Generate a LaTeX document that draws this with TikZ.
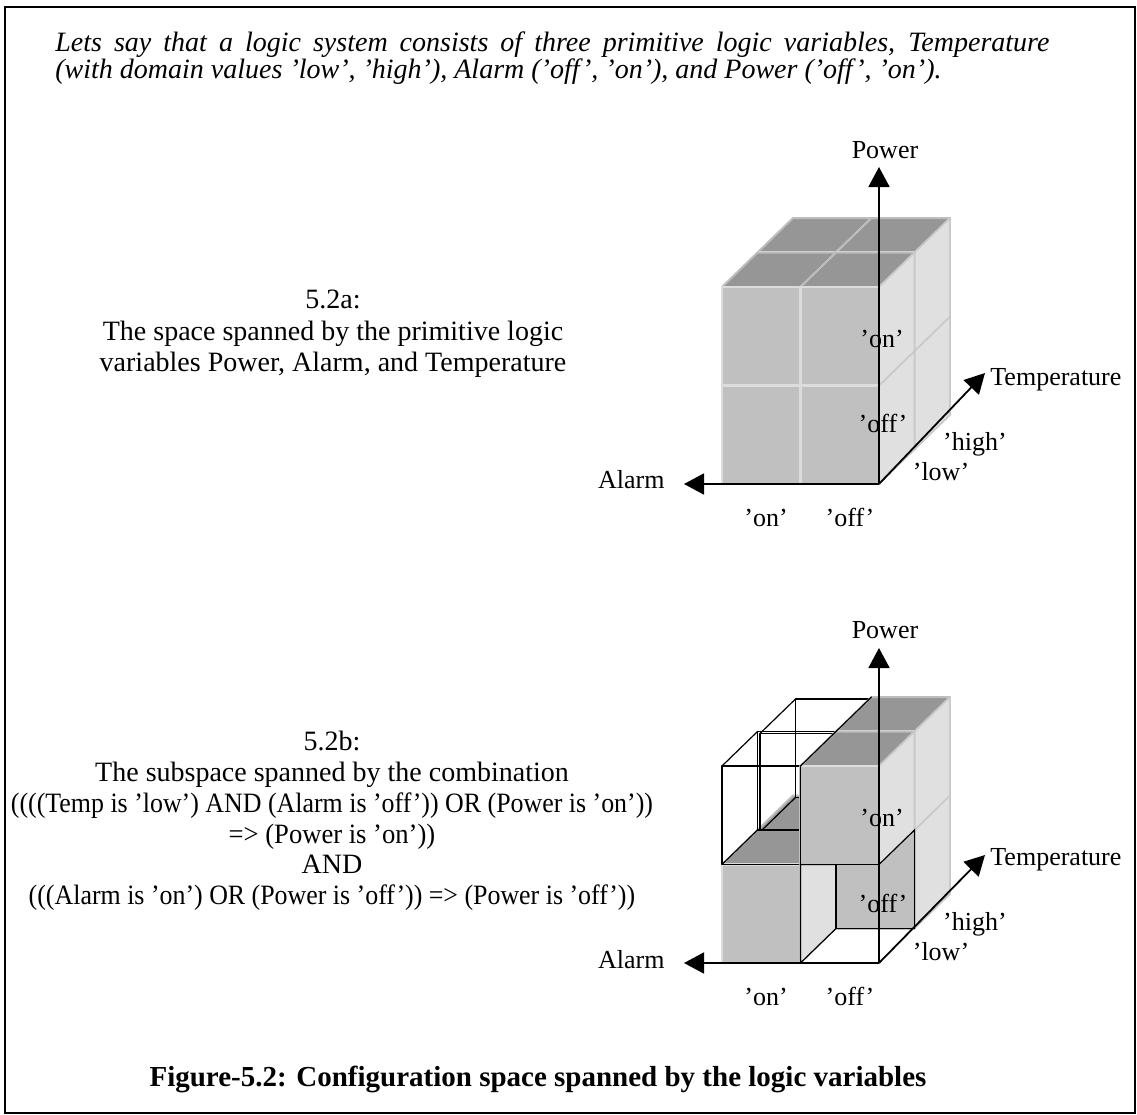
\documentclass[tikz,border=0pt]{standalone}
\usepackage{fontspec}
\setmainfont{Liberation Serif}
\usetikzlibrary{arrows.meta}
\definecolor{topc}{HTML}{969696}
\definecolor{frontc}{HTML}{C0C0C0}
\definecolor{rightc}{HTML}{E0E0E0}
\definecolor{topl}{HTML}{BDBDBD}
\definecolor{frontl}{HTML}{DCDCDC}
\definecolor{rightl}{HTML}{C9C9C9}
% #1 = alarm index, #2 = temperature index, #3 = power index ; coordinates (a,p,t)
\newcommand{\cubecell}[3]{%
  \path[topface] (#1,#3+1,#2) -- (#1+1,#3+1,#2) -- (#1+1,#3+1,#2+1) -- (#1,#3+1,#2+1) -- cycle;
  \path[frontface] (#1,#3,#2) -- (#1+1,#3,#2) -- (#1+1,#3+1,#2) -- (#1,#3+1,#2) -- cycle;
  \path[rightface] (#1,#3,#2) -- (#1,#3,#2+1) -- (#1,#3+1,#2+1) -- (#1,#3+1,#2) -- cycle;
}
\newcommand{\wirecell}[3]{%
  \draw[wire] (#1,#3,#2) -- (#1+1,#3,#2) -- (#1+1,#3+1,#2) -- (#1,#3+1,#2) -- cycle;
  \draw[wire] (#1,#3,#2+1) -- (#1+1,#3,#2+1) -- (#1+1,#3+1,#2+1) -- (#1,#3+1,#2+1) -- cycle;
  \draw[wire] (#1,#3,#2) -- (#1,#3,#2+1) (#1+1,#3,#2) -- (#1+1,#3,#2+1)
              (#1,#3+1,#2) -- (#1,#3+1,#2+1) (#1+1,#3+1,#2) -- (#1+1,#3+1,#2+1);
}
\begin{document}
\begin{tikzpicture}[x=0.5pt,y=-0.5pt,
  body/.style={font=\fontsize{14}{17}\selectfont, inner sep=0pt, anchor=base},
  itxt/.style={font=\fontsize{14}{17}\selectfont\itshape, inner sep=0pt, anchor=base west},
  capt/.style={font=\fontsize{14.5}{17}\selectfont\bfseries, inner sep=0pt, anchor=base},
  lbl/.style={font=\fontsize{13}{15}\selectfont, inner sep=0pt, anchor=base},
  axis/.style={line width=0.9pt, -{Triangle[length=10pt,width=10.5pt]}},
  topface/.style={fill=topc, draw=topl, line width=1pt, line join=round},
  frontface/.style={fill=frontc, draw=frontl, line width=1.1pt, line join=round},
  rightface/.style={fill=rightc, draw=rightl, line width=0.8pt, line join=round},
  wire/.style={line width=0.6pt, black, line join=round},
  edgeline/.style={line width=0.6pt, black, line cap=round},
  cube3d/.style={x={(-39.25pt,0pt)}, y={(0pt,49.25pt)}, z={(17.75pt,17.25pt)}},
]
\useasboundingbox (0,0) rectangle (1137,1115);
\draw[line width=1pt] (5,7) rectangle (1135,1112.5);

% ---------- texts ----------
\node[itxt] (intro1) at (55,51) {\makebox[497pt][s]{Lets say that a logic system consists of three primitive logic variables, Temperature}};
\node[itxt] (intro2) at (55,78) {(with domain values 'low', 'high'), Alarm ('off', 'on'), and Power ('off', 'on').};

\node[body] (a1) at (333,308) {5.2a:};
\node[body] (a2) at (333,340) {The space spanned by the primitive logic};
\node[body] (a3) at (333,371) {variables Power, Alarm, and Temperature};

\node[body] (b1) at (332,750) {5.2b:};
\node[body] (b2) at (332,781) {The subspace spanned by the combination};
\node[body] (b3) at (332,812) {\scalebox{0.925}[1]{((((Temp is 'low') AND (Alarm is 'off')) OR (Power is 'on'))}};
\node[body] (b4) at (332,843) {\scalebox{0.95}[1]{=> (Power is 'on'))}};
\node[body] (b5) at (332,873) {AND};
\node[body] (b6) at (332,904) {\scalebox{0.925}[1]{(((Alarm is 'on') OR (Power is 'off')) => (Power is 'off'))}};

\node[capt] (cap) at (538,1086) {Figure-5.2: Configuration space spanned by the logic variables};

% ---------- cube a ----------
\coordinate (O1) at (879,484);
\begin{scope}[shift={(O1)}, cube3d]
  \cubecell{1}{1}{0} \cubecell{1}{1}{1} \cubecell{0}{1}{0} \cubecell{0}{1}{1}
  \cubecell{1}{0}{0} \cubecell{1}{0}{1} \cubecell{0}{0}{0} \cubecell{0}{0}{1}
\end{scope}
\coordinate (P1) at (879,167);
\coordinate (A1) at (684,484);
\coordinate (T1) at (985,373);
\draw[axis] (O1) -- (P1);
\draw[axis] (O1) -- (A1);
\draw[axis] (O1) -- (T1);
\node[lbl] (pw1) at (885,158) {Power};
\node[lbl, anchor=base west] (tp1) at (990,385) {Temperature};
\node[lbl, anchor=base east] (al1) at (665,488) {Alarm};
\node[lbl] (pon1) at (882,347) {'on'};
\node[lbl] (poff1) at (883,432) {'off'};
\node[lbl] (thi1) at (975,450) {'high'};
\node[lbl] (tlo1) at (941,480) {'low'};
\node[lbl] (aon1) at (766,526) {'on'};
\node[lbl] (aoff1) at (850,526) {'off'};

% ---------- cube b ----------
\coordinate (O2) at (879,963);
\begin{scope}[shift={(O2)}, cube3d]
  \cubecell{1}{1}{0}
  \begin{scope}[shift={(1.25pt,-1pt)}]\wirecell{1}{1}{1}\end{scope}
  \cubecell{0}{1}{0} \cubecell{0}{1}{1}
  \cubecell{1}{0}{0}
  \wirecell{1}{0}{1}
  \cubecell{0}{0}{1}
  % edges of the removed cell
  \draw[edgeline] (1,0,0) -- (1,1,0) -- (0,1,0) -- (0,1,1) -- (0,0,1) -- (1,0,1) -- (1,0,0);
  \draw[edgeline] (1,0,1) -- (1,0.65,1);
  % wire edges on the border of filled cells
  \draw[edgeline] (1,1,0) -- (1,2,0) -- (1,2,1) -- (1,2,2);
\end{scope}
\coordinate (P2) at (879,648);
\coordinate (A2) at (684,963);
\coordinate (T2) at (985,855);
\draw[axis] (O2) -- (P2);
\draw[axis] (O2) -- (A2);
\draw[axis] (O2) -- (T2);
\node[lbl] (pw2) at (885,638) {Power};
\node[lbl, anchor=base west] (tp2) at (990,865) {Temperature};
\node[lbl, anchor=base east] (al2) at (665,968) {Alarm};
\node[lbl] (pon2) at (882,826) {'on'};
\node[lbl] (poff2) at (883,912) {'off'};
\node[lbl] (thi2) at (975,930) {'high'};
\node[lbl] (tlo2) at (941,960) {'low'};
\node[lbl] (aon2) at (766,1005) {'on'};
\node[lbl] (aoff2) at (850,1005) {'off'};
\end{tikzpicture}
\end{document}
